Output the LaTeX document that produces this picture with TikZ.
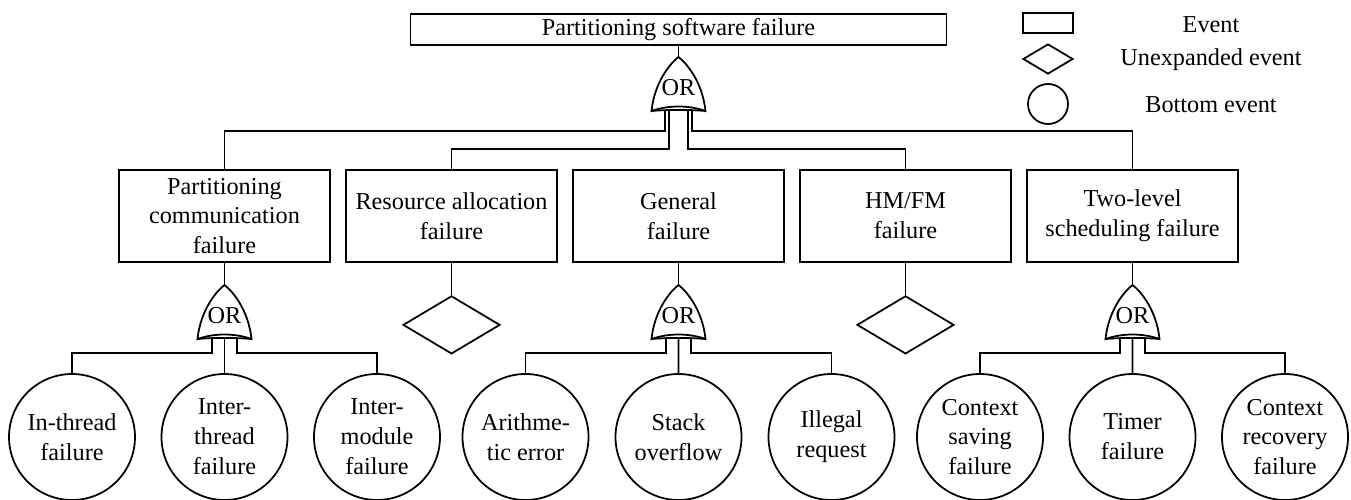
\documentclass[tikz,border=0pt]{standalone}
\usepackage{fontspec}
\setmainfont{Liberation Serif}
\usetikzlibrary{calc}
\usetikzlibrary{positioning}
\usetikzlibrary{shapes.geometric}

\tikzset{
  eventbox/.style={draw, rectangle, minimum width=42.2mm, minimum height=18.4mm, inner sep=1pt, outer sep=0pt, align=center},
  basicev/.style={draw, circle, minimum size=25.2mm, inner sep=0pt, align=center},
  unexpev/.style={draw, diamond, minimum width=19.4mm, minimum height=11.6mm, inner sep=0pt},
  orgate/.pic={
    \draw (-27,54) .. controls (-24,25) and (-8,6) .. (0,0)
          .. controls (8,6) and (24,25) .. (27,54)
          .. controls (10,48) and (-10,48) .. (-27,54) -- cycle;
    \draw (-27,54) .. controls (-10,52.5) and (10,52.5) .. (27,54);
    \node (-txt) at (0,31) {OR};
    \coordinate (-apex) at (0,0);
    \coordinate (-c) at (0,53);
    \coordinate (-l) at (-12.5,53.5);
    \coordinate (-r) at (12.5,53.5);
    \coordinate (-lo) at (-13.5,53.5);
    \coordinate (-li) at (-9.5,53.2);
    \coordinate (-ri) at (9.5,53.2);
    \coordinate (-ro) at (13.5,53.5);
  }
}

\begin{document}
\begin{tikzpicture}[x=0.2mm, y=-0.2mm, line width=1pt, font=\fontsize{13.8}{17}\selectfont]
  \useasboundingbox (0,0) rectangle (1351,500);

  \node [draw, minimum width=107.2mm, minimum height=6.2mm, inner sep=0pt, outer sep=0pt] (top) at (678.5,29.5) {Partitioning software failure};

  % legend
  \node [draw, minimum width=10mm, minimum height=4mm, inner sep=0pt] (legev) at (1048,23) {};
  \node [unexpev, minimum width=10mm, minimum height=6mm] (legun) at (1048,59) {};
  \node [draw, circle, minimum size=8mm, inner sep=0pt] (legbot) at (1048,104) {};
  \node (legevtxt) at (1211,25) {Event};
  \node (leguntxt) at (1211,60) {Unexpanded event};
  \node (legbottxt) at (1211,105) {Bottom event};

  % second level
  \node [eventbox] (b1) at (224.5,216) {Partitioning\\communication\\failure};
  \node [eventbox, right=3.2mm of b1] (b2) {Resource allocation\\failure};
  \node [eventbox, right=3.2mm of b2] (b3) {General\\failure};
  \node [eventbox, right=3.2mm of b3] (b4) {HM/FM\\failure};
  \node [eventbox, right=3.2mm of b4] (b5) {Two-level\\scheduling failure};

  \pic (g0) at (678.5,57) {orgate};
  \draw (top.south) -- (g0-apex);
  \draw (g0-lo) |- ($(b1.north)+(0,-39)$) -- (b1.north);
  \draw (g0-li) |- ($(b2.north)+(0,-21)$) -- (b2.north);
  \draw (g0-ri) |- ($(b4.north)+(0,-21)$) -- (b4.north);
  \draw (g0-ro) |- ($(b5.north)+(0,-39)$) -- (b5.north);

  \node [unexpev, below=6.6mm of b2] (d2) {};
  \node [unexpev, below=6.6mm of b4] (d4) {};
  \draw (b2.south) -- (d2.north);
  \draw (b4.south) -- (d4.north);

  \foreach \i in {1,3,5} {
    \pic (g\i) at ($(b\i.south)+(0,23)$) {orgate};
    \draw (b\i.south) -- (g\i-apex);
  }

  % bottom events
  \node [basicev] (c1) at (72,437) {In-thread\\failure};
  \node [basicev] (c2) at (224.5,437) {Inter-\\thread\\failure};
  \node [basicev] (c3) at (377,437) {Inter-\\module\\failure};
  \node [basicev] (c4) at (525.5,437) {Arithme-\\tic error};
  \node [basicev] (c5) at (678.5,437) {Stack\\overflow};
  \node [basicev] (c6) at (831.5,437) {Illegal\\request};
  \node [basicev] (c7) at (980,437) {Context\\saving\\failure};
  \node [basicev] (c8) at (1132.5,437) {Timer\\failure};
  \node [basicev] (c9) at (1285,437) {Context\\recovery\\failure};

  \foreach \g/\l/\m/\r in {g1/c1/c2/c3, g3/c4/c5/c6, g5/c7/c8/c9} {
    \draw (\g-l) |- ($(\l.north)+(0,-20)$) -- (\l.north);
    \draw (\g-c) -- (\m.north);
    \draw (\g-r) |- ($(\r.north)+(0,-20)$) -- (\r.north);
  }
\end{tikzpicture}
\end{document}
